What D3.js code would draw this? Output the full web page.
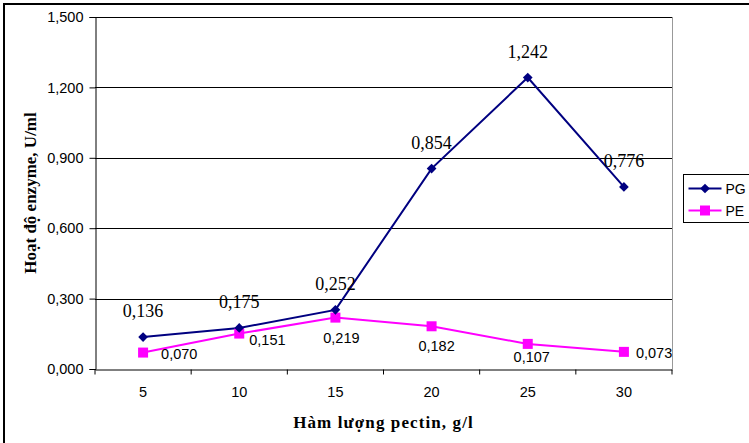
<!DOCTYPE html>
<meta charset="utf-8">
<script src="https://d3js.org/d3.v7.min.js"></script>
<style>
  body { margin: 0; background: #fff; }
</style>
<div id="vis"></div>
<script>

var categories = ["5", "10", "15", "20", "25", "30"]
var pgValues = [0.136, 0.175, 0.252, 0.854, 1.242, 0.776]
var peValues = [0.070, 0.151, 0.219, 0.182, 0.107, 0.073]
var yTicks = [0, 0.3, 0.6, 0.9, 1.2, 1.5]
// where Excel put the PE value labels, relative to the point (dx, dy, anchor)
var peLabelPos = [[18, 6, "start"], [10, 11, "start"], [6, 25, "middle"],
                  [5, 25, "middle"], [4, 18, "middle"], [12, 6, "start"]]

var width = 749,
    height = 443,
    margin = {top: 17, right: 77, bottom: 74, left: 95}

var sans = "Liberation Sans, Arial, sans-serif"
var serif = "Liberation Serif, Times New Roman, serif"

var svg = d3.select("#vis")
  .append("svg")
    .attr("width", width)
    .attr("height", height)

// outer chart frame (runs off the right/bottom edge like the original)
svg.append("rect")
  .attr("x", 4).attr("y", 4)
  .attr("width", 800).attr("height", 500)
  .attr("fill", "none")
  .attr("stroke", "#000")
  .attr("stroke-width", 2)

var x = d3.scaleBand()
  .domain(categories)
  .range([margin.left, width - margin.right])

var y = d3.scaleLinear()
  .domain([0, 1.5])
  .range([height - margin.bottom, margin.top])

var fmt = function(v) { return d3.format(".3f")(v).replace(".", ",") }

// gridlines
svg.append("g")
  .selectAll("line")
  .data(yTicks.slice(1))
  .enter()
  .append("line")
    .attr("x1", margin.left)
    .attr("x2", width - margin.right)
    .attr("y1", function(d) { return Math.round(y(d)) + 0.5 })
    .attr("y2", function(d) { return Math.round(y(d)) + 0.5 })
    .attr("stroke", "#000")

// right side of plot area
svg.append("line")
  .attr("x1", width - margin.right + 0.5).attr("x2", width - margin.right + 0.5)
  .attr("y1", margin.top).attr("y2", height - margin.bottom)
  .attr("stroke", "#999")

var yAxis = svg.append("g")
  .attr("transform", "translate(" + (margin.left + 0.5) + ",0)")
  .call(d3.axisLeft(y).tickValues(yTicks).tickSize(6).tickPadding(6).tickFormat(fmt))

var xAxis = svg.append("g")
  .attr("transform", "translate(0," + (height - margin.bottom + 0.5) + ")")
  .call(d3.axisBottom(x).tickSize(0).tickPadding(17))

// excel puts the x ticks between categories
xAxis.selectAll(".between")
  .data(d3.range(categories.length + 1))
  .enter()
  .append("line")
    .attr("class", "between")
    .attr("x1", function(i) { return margin.left + i * x.step() })
    .attr("x2", function(i) { return margin.left + i * x.step() })
    .attr("y1", 0).attr("y2", 5)
    .attr("stroke", "#000")

svg.selectAll(".domain").attr("stroke", "#000")
svg.selectAll(".tick line").attr("stroke", "#000")
svg.selectAll(".tick text")
  .attr("fill", "#000")
  .style("font-family", sans)
  .style("font-size", "14.5px")

var cx = function(i) { return x(categories[i]) + x.bandwidth() / 2 }

function drawSeries(values, color) {
  svg.append("path")
    .datum(values)
    .attr("fill", "none")
    .attr("stroke", color)
    .attr("stroke-width", 2)
    .attr("d", d3.line()
      .x(function(d, i) { return cx(i) })
      .y(function(d) { return y(d) }))
}

drawSeries(peValues, "#ff00ff")
drawSeries(pgValues, "#000080")

svg.append("g")
  .selectAll("rect")
  .data(peValues)
  .enter()
  .append("rect")
    .attr("x", function(d, i) { return cx(i) - 5 })
    .attr("y", function(d) { return y(d) - 5 })
    .attr("width", 10).attr("height", 10)
    .attr("fill", "#ff00ff")

var diamond = d3.symbol().type(d3.symbolDiamond2).size(60)

svg.append("g")
  .selectAll("path")
  .data(pgValues)
  .enter()
  .append("path")
    .attr("d", diamond)
    .attr("transform", function(d, i) { return "translate(" + cx(i) + "," + y(d) + ")" })
    .attr("fill", "#000080")

// value labels
svg.append("g")
  .selectAll("text")
  .data(pgValues)
  .enter()
  .append("text")
    .attr("x", function(d, i) { return cx(i) })
    .attr("y", function(d) { return y(d) - 20 })
    .attr("text-anchor", "middle")
    .style("font-family", serif)
    .style("font-size", "18px")
    .text(fmt)

svg.append("g")
  .selectAll("text")
  .data(peValues)
  .enter()
  .append("text")
    .attr("x", function(d, i) { return cx(i) + peLabelPos[i][0] })
    .attr("y", function(d, i) { return y(d) + peLabelPos[i][1] })
    .attr("text-anchor", function(d, i) { return peLabelPos[i][2] })
    .style("font-family", sans)
    .style("font-size", "14.5px")
    .text(fmt)

// axis titles
svg.append("text")
  .attr("transform", "translate(36," + ((margin.top + height - margin.bottom) / 2) + ") rotate(-90)")
  .attr("text-anchor", "middle")
  .style("font-family", serif)
  .style("font-size", "17px")
  .style("font-weight", "bold")
  .text("Hoạt độ enzyme, U/ml")

svg.append("text")
  .attr("x", (margin.left + width - margin.right) / 2)
  .attr("y", 428)
  .attr("text-anchor", "middle")
  .style("font-family", serif)
  .style("font-size", "17px")
  .style("font-weight", "bold")
  .style("letter-spacing", "1.1px")
  .text("Hàm lượng pectin, g/l")

// legend
var legend = svg.append("g").attr("transform", "translate(683.5,174.5)")
legend.append("rect")
  .attr("width", 80).attr("height", 48)
  .attr("fill", "#fff").attr("stroke", "#000")

var series = [["PG", "#000080"], ["PE", "#ff00ff"]]
series.forEach(function(s, i) {
  var ly = 14 + i * 22
  legend.append("line")
    .attr("x1", 5).attr("x2", 38).attr("y1", ly).attr("y2", ly)
    .attr("stroke", s[1]).attr("stroke-width", 2)
  if (i == 0) {
    legend.append("path").attr("d", diamond)
      .attr("transform", "translate(21.5," + ly + ")").attr("fill", s[1])
  } else {
    legend.append("rect").attr("x", 16.5).attr("y", ly - 5)
      .attr("width", 10).attr("height", 10).attr("fill", s[1])
  }
  legend.append("text")
    .attr("x", 42).attr("y", ly + 5)
    .style("font-family", sans)
    .style("font-size", "14px")
    .text(s[0])
})

</script>
